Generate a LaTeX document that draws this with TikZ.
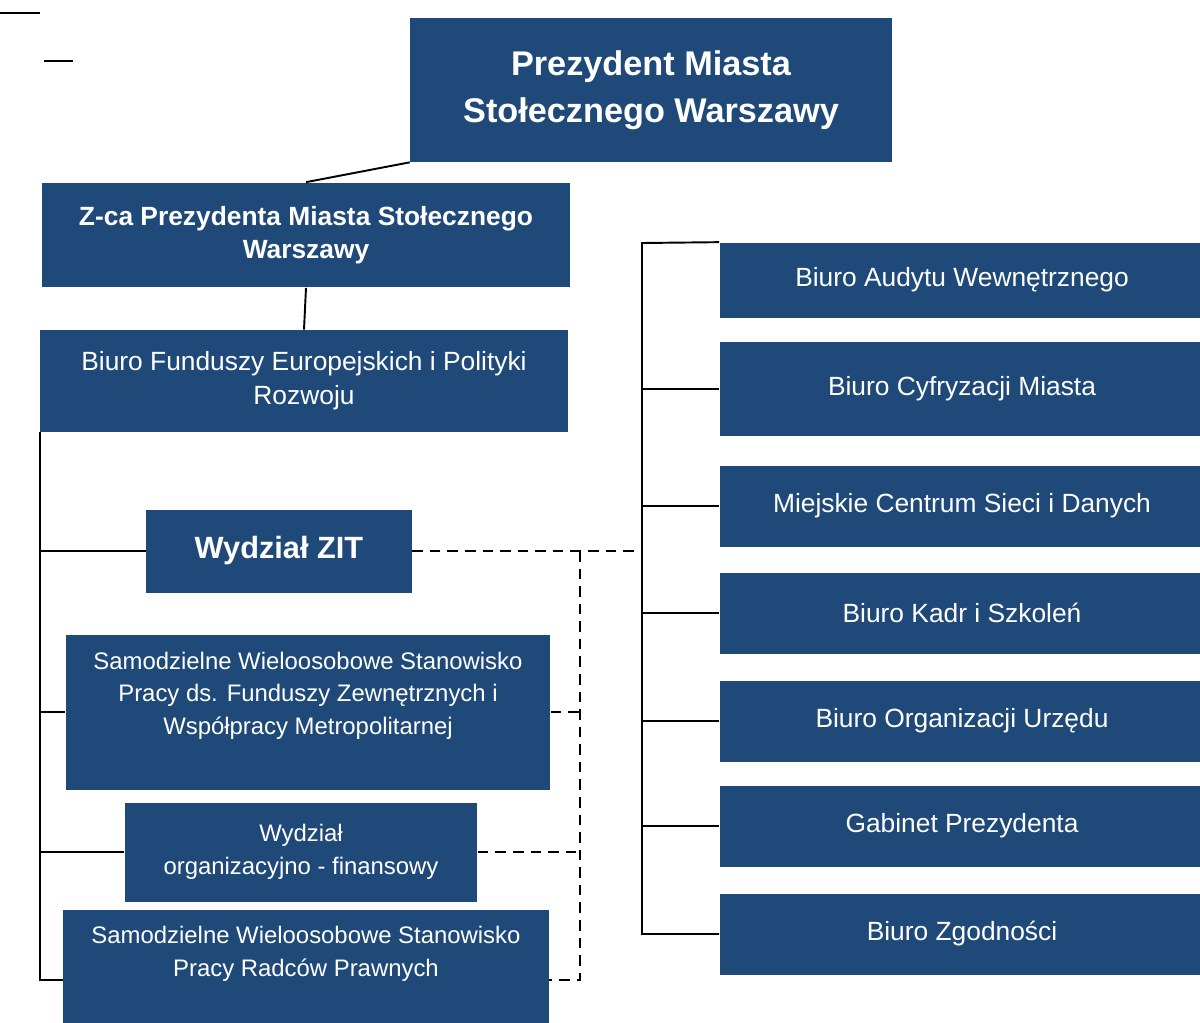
\documentclass[tikz,border=0pt]{standalone}
\usepackage{fontspec}
\setmainfont{Liberation Sans}
\definecolor{umblue}{RGB}{31,73,120}

\begin{document}
\begin{tikzpicture}[
    x=0.02cm, y=-0.02cm,
    box/.style={fill=umblue,text=white,align=center,inner sep=2pt,
                font=\fontsize{15}{19.5}\selectfont},
    hbox/.style={box,font=\bfseries\fontsize{15}{18.5}\selectfont},
    sbox/.style={box,font=\fontsize{13.6}{18.5}\selectfont},
    rbox/.style={box,minimum width=9.7cm,minimum height=1.62cm},
    ln/.style={line width=1.1pt},
    dsh/.style={line width=1.1pt,dash pattern=on 6pt off 4pt}
]
  \clip (0,0) rectangle (1200,1022);

  % Top
  \node[box,minimum width=9.64cm,minimum height=2.88cm,
        font=\bfseries\fontsize{19.5}{26.5}\selectfont] (prez) at (651,90)
        {Prezydent Miasta\\Stołecznego Warszawy};
  \node[hbox,minimum width=10.56cm,minimum height=2.1cm] (zca) at (306,235)
        {Z-ca Prezydenta Miasta Stołecznego\\Warszawy};
  \node[box,minimum width=10.56cm,minimum height=2.04cm] (bfe) at (304,381)
        {Biuro Funduszy Europejskich i Polityki\\Rozwoju};

  % Left column
  \node[box,minimum width=5.32cm,minimum height=1.66cm,
        font=\bfseries\fontsize{17.5}{21}\selectfont] (zit) at (279,551) {Wydział ZIT};
  \node[sbox,minimum width=9.7cm,minimum height=3.1cm] (swsp1) at (308,712)
        {Samodzielne Wieloosobowe Stanowisko\\Pracy ds. Funduszy Zewnętrznych i\\Współpracy Metropolitarnej\\[3pt]\mbox{}};
  \node[sbox,minimum width=7.06cm,minimum height=1.98cm] (wof) at (301,852)
        {Wydział\\organizacyjno - finansowy};
  \node[sbox,minimum width=9.72cm,minimum height=2.8cm] (swsp2) at (306,980)
        {Samodzielne Wieloosobowe Stanowisko\\Pracy Radców Prawnych\\[14pt]\mbox{}};

  % Right column
  \node[rbox,minimum height=1.5cm] (audyt) at (962,280) {Biuro Audytu Wewnętrznego};
  \node[rbox,minimum height=1.88cm] (cyfr) at (962,389) {Biuro Cyfryzacji Miasta};
  \node[rbox] (miej) at (962,506) {Miejskie Centrum Sieci i Danych};
  \node[rbox] (kadr) at (962,613) {Biuro Kadr i Szkoleń};
  \node[rbox] (orgu) at (962,721) {Biuro Organizacji Urzędu};
  \node[rbox] (gab) at (962,826) {Gabinet Prezydenta};
  \node[rbox] (zgod) at (962,934) {Biuro Zgodności};

  % marks in the corner
  \draw[ln] (0,13) -- (40,13);
  \draw[ln] (44,61) -- (73,61);

  % Lines
  \draw[ln] (prez.south west) -- (zca.north);
  \draw[ln] (zca.south) -- (bfe.north);
  \draw[ln] (bfe.south west) |- (swsp2.west);
  \foreach \n in {zit,swsp1,wof}
    \draw[ln] (bfe.south west |- \n.west) -- (\n.west);

  % dashed links of Wydzial ZIT
  \coordinate (dj) at (580,551);
  \coordinate (dend) at (635,551);
  \draw[dsh] (zit.east) -- (dend);
  \draw[dsh] (dj) |- (swsp2.east);
  \foreach \n in {swsp1,wof}
    \draw[dsh] (\n.east) -- (\n.east -| dj);

  % right bus
  \coordinate (rb) at (642,243);
  \draw[ln] (audyt.north west) -- (rb) |- (zgod.west);
  \foreach \n in {cyfr,miej,kadr,orgu,gab}
    \draw[ln] (rb |- \n.west) -- (\n.west);
\end{tikzpicture}
\end{document}
